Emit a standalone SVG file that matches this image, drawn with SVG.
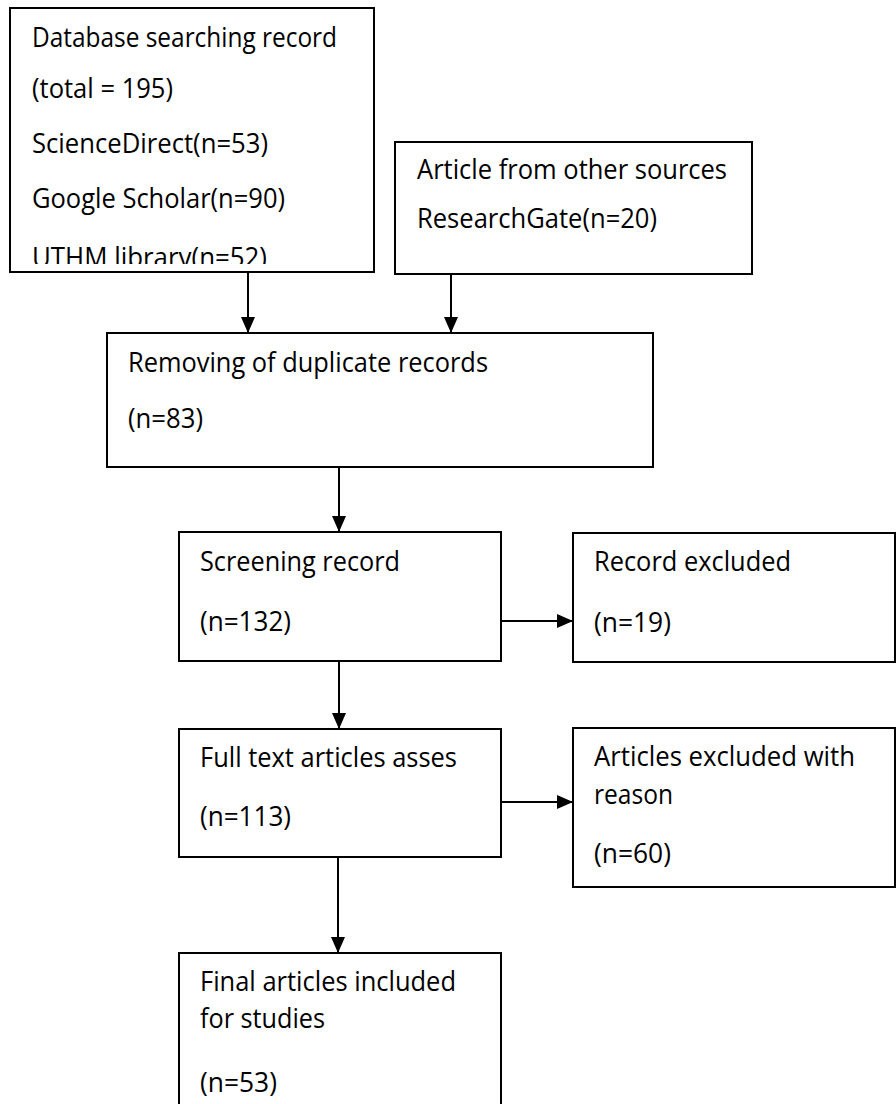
<svg xmlns="http://www.w3.org/2000/svg" width="896" height="1104" viewBox="0 0 896 1104">
<style>
.box{fill:#fff;stroke:#000;stroke-width:2}
.t{font-family:"Open Sans","Noto Sans",sans-serif;font-size:27px;fill:#000}
.c{stroke:#000;stroke-width:2;fill:none}
</style>
<defs>
<marker id="ah2" viewBox="0 0 16 14" refX="16" refY="7" markerWidth="16" markerHeight="14" markerUnits="userSpaceOnUse" orient="auto">
<path d="M0,0 L16,7 L0,14 Z" fill="#000"/>
</marker>
<clipPath id="clip1"><rect x="10" y="8" width="364" height="256"/></clipPath>
</defs>
<rect width="896" height="1104" fill="#fff"/>
<g id="connectors">
<line class="c" x1="248" y1="272" x2="248" y2="333" marker-end="url(#ah2)"/>
<line class="c" x1="451" y1="274" x2="451" y2="333" marker-end="url(#ah2)"/>
<line class="c" x1="339" y1="467" x2="339" y2="532" marker-end="url(#ah2)"/>
<line class="c" x1="501" y1="621" x2="573" y2="621" marker-end="url(#ah2)"/>
<line class="c" x1="339" y1="661" x2="339" y2="729" marker-end="url(#ah2)"/>
<line class="c" x1="501" y1="802" x2="573" y2="802" marker-end="url(#ah2)"/>
<line class="c" x1="338" y1="857" x2="338" y2="953" marker-end="url(#ah2)"/>
</g>
<g id="n-database">
<rect class="box" x="10" y="8" width="364" height="264"/>
<g clip-path="url(#clip1)">
<text class="t" x="32" y="47" textLength="305" lengthAdjust="spacingAndGlyphs">Database searching record</text>
<text class="t" x="32" y="98" textLength="141" lengthAdjust="spacingAndGlyphs">(total = 195)</text>
<text class="t" x="32" y="153" textLength="236" lengthAdjust="spacingAndGlyphs">ScienceDirect(n=53)</text>
<text class="t" x="32" y="208" textLength="253" lengthAdjust="spacingAndGlyphs">Google Scholar(n=90)</text>
<text class="t" x="32" y="267" textLength="235" lengthAdjust="spacingAndGlyphs">UTHM library(n=52)</text>
</g>
</g>
<g id="n-other">
<rect class="box" x="395" y="142" width="357" height="132"/>
<text class="t" x="417" y="179" textLength="310" lengthAdjust="spacingAndGlyphs">Article from other sources</text>
<text class="t" x="417" y="228" textLength="240" lengthAdjust="spacingAndGlyphs">ResearchGate(n=20)</text>
</g>
<g id="n-duplicates">
<rect class="box" x="107" y="333" width="546" height="134"/>
<text class="t" x="128" y="372" textLength="360" lengthAdjust="spacingAndGlyphs">Removing of duplicate records</text>
<text class="t" x="128" y="428" textLength="75" lengthAdjust="spacingAndGlyphs">(n=83)</text>
</g>
<g id="n-screening">
<rect class="box" x="179" y="532" width="322" height="129"/>
<text class="t" x="200" y="571" textLength="200" lengthAdjust="spacingAndGlyphs">Screening record</text>
<text class="t" x="200" y="631" textLength="91" lengthAdjust="spacingAndGlyphs">(n=132)</text>
</g>
<g id="n-excluded">
<rect class="box" x="573" y="533" width="322" height="129"/>
<text class="t" x="594" y="571" textLength="197" lengthAdjust="spacingAndGlyphs">Record excluded</text>
<text class="t" x="594" y="632" textLength="77" lengthAdjust="spacingAndGlyphs">(n=19)</text>
</g>
<g id="n-fulltext">
<rect class="box" x="179" y="729" width="322" height="128"/>
<text class="t" x="200" y="767" textLength="257" lengthAdjust="spacingAndGlyphs">Full text articles asses</text>
<text class="t" x="200" y="826" textLength="91" lengthAdjust="spacingAndGlyphs">(n=113)</text>
</g>
<g id="n-articles-excluded">
<rect class="box" x="573" y="728" width="322" height="159"/>
<text class="t" x="594" y="766" textLength="261" lengthAdjust="spacingAndGlyphs">Articles excluded with</text>
<text class="t" x="594" y="804" textLength="79" lengthAdjust="spacingAndGlyphs">reason</text>
<text class="t" x="594" y="863" textLength="77" lengthAdjust="spacingAndGlyphs">(n=60)</text>
</g>
<g id="n-final">
<rect class="box" x="179" y="953" width="322" height="160"/>
<text class="t" x="200" y="991" textLength="256" lengthAdjust="spacingAndGlyphs">Final articles included</text>
<text class="t" x="200" y="1028" textLength="125" lengthAdjust="spacingAndGlyphs">for studies</text>
<text class="t" x="200" y="1092" textLength="77" lengthAdjust="spacingAndGlyphs">(n=53)</text>
</g>
</svg>
